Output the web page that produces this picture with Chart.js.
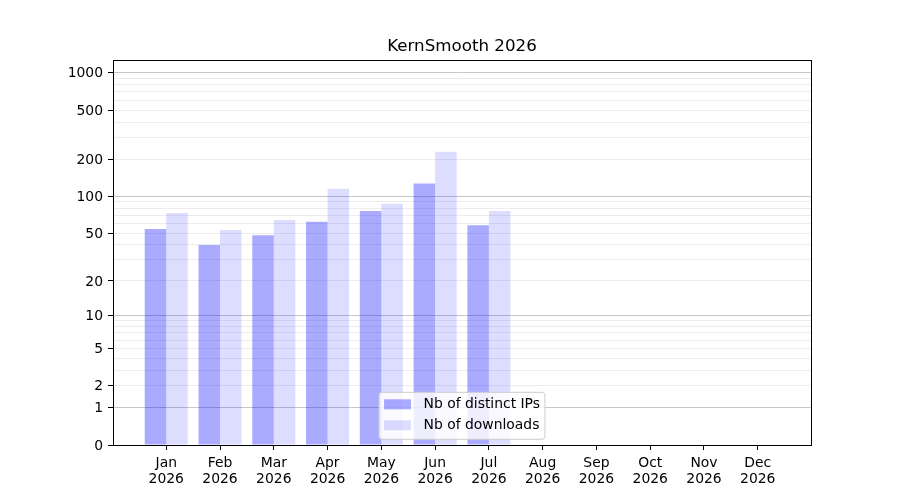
<!DOCTYPE html>
<html>
<head>
<meta charset="utf-8">
<script src="https://cdn.jsdelivr.net/npm/chart.js@4.4.1/dist/chart.umd.min.js"></script>
<style>
  body { margin: 0; background: #fff; }
  #wrap { width: 900px; height: 500px; }
</style>
</head>
<body>
<div id="wrap"><canvas id="myChart" width="900" height="500"></canvas></div>
<script>
// data
var chartTitle = "KernSmooth 2026";
var months = ["Jan", "Feb", "Mar", "Apr", "May", "Jun", "Jul", "Aug", "Sep", "Oct", "Nov", "Dec"];
var yearLabel = "2026";
var ipCounts = [54, 40, 48, 62, 76, 127, 58, null, null, null, null, null];
var downloadCounts = [73, 53, 64, 115, 87, 230, 76, null, null, null, null, null];
var seriesNames = ["Nb of distinct IPs", "Nb of downloads"];

// y axis (log(1+x) scale) ticks
var yLabelTicks = [0, 1, 2, 5, 10, 20, 50, 100, 200, 500, 1000];
var yMajorGrid = [1, 10, 100, 1000];
var yGridTicks = [0, 1, 2, 3, 4, 5, 6, 7, 8, 9, 10, 20, 30, 40, 50, 60, 70, 80, 90,
                  100, 200, 300, 400, 500, 600, 700, 800, 900, 1000];
var yMax = 1266;

var FONT = "'DejaVu Sans', sans-serif";

// scale where pixel position follows log10(1 + value)
class Log1pScale extends Chart.LinearScale {
    buildTicks() {
        return yGridTicks.map(function (v) { return { value: v }; });
    }
    configure() {
        super.configure();
        this._t0 = Math.log10(1 + this.min);
        this._t1 = Math.log10(1 + this.max);
    }
    getPixelForValue(value) {
        if (value === null || value === undefined || isNaN(value)) return NaN;
        var d = (Math.log10(1 + value) - this._t0) / (this._t1 - this._t0);
        return this.getPixelForDecimal(d);
    }
    getValueForPixel(pixel) {
        var d = this.getDecimalForPixel(pixel);
        return Math.pow(10, this._t0 + d * (this._t1 - this._t0)) - 1;
    }
}
Log1pScale.id = "log1p";
Log1pScale.defaults = Chart.LinearScale.defaults;
Chart.register(Log1pScale);

function toPoints(arr) {
    var pts = [];
    for (var i = 0; i < arr.length; i++) {
        pts.push({ x: i, y: arr[i] });
    }
    return pts;
}

// frame on all four sides + legend in lower centre of the plot
var frameAndLegend = {
    id: "frameAndLegend",
    afterDatasetsDraw: function (chart) {
        var ctx = chart.ctx;
        var a = chart.chartArea;
        ctx.save();
        ctx.strokeStyle = "#000";
        ctx.lineWidth = 1;
        ctx.strokeRect(Math.round(a.left) + 0.5, Math.round(a.top) + 0.5,
                       Math.round(a.right - a.left), Math.round(a.bottom - a.top));

        ctx.font = "13.9px " + FONT;
        var textW = 0;
        for (var i = 0; i < seriesNames.length; i++) {
            textW = Math.max(textW, ctx.measureText(seriesNames[i]).width);
        }
        var boxW = 44.5 + textW + 5;
        var boxH = 47;
        var cx = (a.left + a.right) / 2;
        var bx = cx - boxW / 2;
        var by = a.bottom - 5.7 - boxH;

        ctx.beginPath();
        if (ctx.roundRect) ctx.roundRect(bx, by, boxW, boxH, 3);
        else ctx.rect(bx, by, boxW, boxH);
        ctx.fillStyle = "rgba(255,255,255,0.8)";
        ctx.fill();
        ctx.strokeStyle = "#cccccc";
        ctx.lineWidth = 1;
        ctx.stroke();

        ctx.textBaseline = "middle";
        ctx.textAlign = "left";
        for (var j = 0; j < chart.data.datasets.length; j++) {
            var ds = chart.data.datasets[j];
            var rowY = by + 12 + j * 21;
            ctx.fillStyle = ds.backgroundColor;
            ctx.fillRect(bx + 5, rowY - 5, 27, 10);
            ctx.fillStyle = "#000";
            ctx.fillText(ds.label, bx + 44.5, rowY + 0.5);
        }
        ctx.restore();
    }
};

var canvas = document.getElementById("myChart");
var ctx = canvas.getContext("2d");

var myNewChart = new Chart(ctx, {
    type: "bar",
    data: {
        datasets: [{
            label: seriesNames[0],
            data: toPoints(ipCounts),
            backgroundColor: "rgba(0,0,255,0.333)",
            borderWidth: 0
        }, {
            label: seriesNames[1],
            data: toPoints(downloadCounts),
            backgroundColor: "rgba(0,0,255,0.133)",
            borderWidth: 0
        }]
    },
    options: {
        responsive: false,
        animation: false,
        devicePixelRatio: 1,
        categoryPercentage: 0.8,
        barPercentage: 1.0,
        layout: { padding: { left: 0, right: 89, top: 0, bottom: 0 } },
        plugins: {
            legend: { display: false },
            tooltip: { enabled: false },
            title: {
                display: true,
                fullSize: false,
                text: chartTitle,
                color: "#000",
                font: { family: FONT, size: 16.7, weight: "normal", lineHeight: 1.2 },
                padding: { top: 36.7, bottom: 3.3 }
            }
        },
        scales: {
            x: {
                type: "linear",
                offset: false,
                min: -0.99,
                max: 11.99,
                afterBuildTicks: function (scale) {
                    scale.ticks = months.map(function (m, i) { return { value: i }; });
                },
                afterFit: function (scale) { scale.height = 55; },
                grid: {
                    offset: false,
                    drawOnChartArea: false,
                    drawTicks: true,
                    tickLength: 5,
                    tickColor: "#000",
                    tickWidth: 1
                },
                border: { display: true, color: "#000", width: 1 },
                ticks: {
                    autoSkip: false,
                    maxRotation: 0,
                    padding: 5,
                    color: "#000",
                    font: { family: FONT, size: 13.9, lineHeight: 1.15 },
                    callback: function (value) { return [months[value], yearLabel]; }
                }
            },
            y: {
                type: "log1p",
                min: 0,
                max: yMax,
                afterFit: function (scale) { scale.width = 113; },
                grid: {
                    drawTicks: true,
                    tickLength: 5,
                    lineWidth: 1,
                    color: function (c) {
                        var v = c.tick ? c.tick.value : null;
                        if (v === 0) return "rgba(0,0,0,0)";
                        return yMajorGrid.indexOf(v) >= 0 ? "rgba(0,0,0,0.22)" : "rgba(0,0,0,0.075)";
                    },
                    tickColor: function (c) {
                        var v = c.tick ? c.tick.value : null;
                        return yLabelTicks.indexOf(v) >= 0 ? "#000" : "rgba(0,0,0,0)";
                    }
                },
                border: { display: true, color: "#000", width: 1 },
                ticks: {
                    autoSkip: false,
                    padding: 5,
                    labelOffset: 1,
                    color: "#000",
                    font: { family: FONT, size: 13.9 },
                    callback: function (value) {
                        return yLabelTicks.indexOf(value) >= 0 ? String(value) : "";
                    }
                }
            }
        }
    },
    plugins: [frameAndLegend]
});
</script>
</body>
</html>
